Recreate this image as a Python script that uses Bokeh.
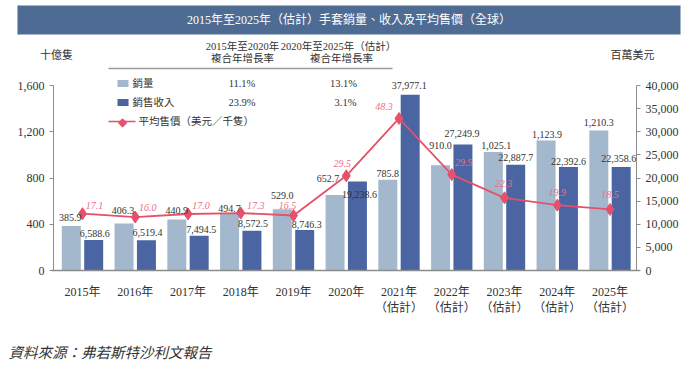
from bokeh.plotting import figure
from bokeh.models import (Range1d, LinearAxis, FixedTicker, NumeralTickFormatter, Label,
                          BoxAnnotation, ColumnDataSource)
from bokeh.transform import dodge
from bokeh.core.properties import value
from bokeh.embed import file_html
from bokeh.resources import INLINE

# ---------------- data ----------------
years = ["2015年", "2016年", "2017年", "2018年", "2019年", "2020年",
         "2021年\n（估計）", "2022年\n（估計）", "2023年\n（估計）", "2024年\n（估計）", "2025年\n（估計）"]
volume = [385.9, 406.3, 440.9, 494.7, 529.0, 652.7, 785.8, 910.0, 1025.1, 1123.9, 1210.3]        # 十億隻
revenue = [6588.6, 6519.4, 7494.5, 8572.5, 8746.3, 19238.6, 37977.1, 27249.9, 22887.7, 22392.6, 22358.6]  # 百萬美元
asp = [17.1, 16.0, 17.0, 17.3, 16.5, 29.5, 48.3, 29.9, 22.3, 19.9, 18.5]  # 美元／千隻
left_ticks = [0, 400, 800, 1200, 1600]
right_ticks = [0, 5000, 10000, 15000, 20000, 25000, 30000, 35000, 40000]
cagr_headers = [("2015年至2020年", "複合年增長率"), ("2020年至2025年（估計）", "複合年增長率")]
cagr_volume = ["11.1%", "13.1%"]
cagr_revenue = ["23.9%", "3.1%"]
series_names = ["銷量", "銷售收入", "平均售價（美元／千隻）"]
title_text = "2015年至2025年（估計）手套銷量、收入及平均售價（全球）"
left_unit = "十億隻"
right_unit = "百萬美元"
source_text = "資料來源：弗若斯特沙利文報告"

# ---------------- styling (label nudges in px) ----------------
vol_dy = [8, 13, 9, 4.5, 14, 17, 6, 20, 6.5, 6, 8.4]
vol_dx = [-1, -1, 0, 0, 0, -7, 0, 0, 3, 1, 0]
rev_dy = [7, 8, 6, 7, 6, -13, 9, 10.7, 7.4, 5.4, 8.5]
rev_dx = [1, 1, 2, 1, 2, 2, -1, -1, 0, 0, -2.5]
asp_dx = [12, 12.5, 13, 15, -6, -4, -15, 12, -1, 0, 0]
asp_dy = [8, 9.4, 8, 7.6, 10, 12, 12, 12, 14, 13, 14.7]

LIGHT = "#a3b8cd"
DARK = "#4a65a1"
PINK = "#e5506b"
PINK_TXT = "#ec6f87"
BANNER = "#4e6b93"
TXT = "#333333"
AXIS = "#8c8c8c"
FONT = "Liberation Serif, Noto Sans CJK TC"

# ---------------- geometry (pixels) ----------------
W, H = 690, 366
X0, PPU = 82.0, 52.75          # px of first category centre, px per category
BASE = 270.0                   # px of value 0
PX_PER_VOL = 185.0 / 1600.0    # px per unit of left axis
AX_L, AX_R = 53.0, 636.0       # px of the two vertical axes
REV_PER_VOL = 25.0             # 40,000 / 1,600
ASP_A, ASP_B = 40.0, 26.4      # ASP v sits at left-axis value A + B*v

def xd(px):
    return (px - X0) / PPU

def yd(py):
    return (BASE - py) / PX_PER_VOL

vol_max, rev_max = 1600, 40000

idx = list(range(len(years)))
src = ColumnDataSource(dict(
    x=idx, vol=volume, rev=revenue, asp=asp,
    vol_lbl=[f"{v:,.1f}" for v in volume],
    rev_lbl=[f"{v:,.1f}" for v in revenue],
    asp_lbl=[f"{v:.1f}" for v in asp],
    vol_dy=[-d for d in vol_dy], vol_dx=vol_dx,
    rev_dy=[-d for d in rev_dy], rev_dx=rev_dx,
    asp_dy=[-d for d in asp_dy], asp_dx=asp_dx,
))

p = figure(width=W, height=H, output_backend="svg", toolbar_location=None, title=None,
           x_range=Range1d(xd(0), xd(W)), y_range=Range1d(yd(H), yd(0)),
           min_border=0, x_axis_location=None, y_axis_location=None)
p.outline_line_color = None
p.grid.visible = False
p.background_fill_color = "white"
p.border_fill_color = "white"
p.extra_y_ranges = {
    "rev": Range1d(yd(H) * REV_PER_VOL, yd(0) * REV_PER_VOL),
    "asp": Range1d((yd(H) - ASP_A) / ASP_B, (yd(0) - ASP_A) / ASP_B),
}

# axes (fixed inside the full-canvas frame)
xaxis = LinearAxis(ticker=FixedTicker(ticks=idx), fixed_location=0,
                   bounds=(xd(AX_L - 2), xd(AX_R + 3)),
                   major_label_overrides={i: y for i, y in enumerate(years)})
xaxis.axis_line_color = AXIS
xaxis.axis_line_width = 1.6
xaxis.major_tick_line_color = None
xaxis.minor_tick_line_color = None
xaxis.major_label_standoff = 8
xaxis.major_label_text_font = FONT
xaxis.major_label_text_font_size = "12px"
xaxis.major_label_text_color = TXT
p.add_layout(xaxis, "below")

laxis = LinearAxis(ticker=FixedTicker(ticks=left_ticks), bounds=(0, vol_max),
                   fixed_location=xd(AX_L), formatter=NumeralTickFormatter(format="0,0"))
raxis = LinearAxis(y_range_name="rev", ticker=FixedTicker(ticks=right_ticks), bounds=(0, rev_max),
                   fixed_location=xd(AX_R), formatter=NumeralTickFormatter(format="0,0"))
for ax in (laxis, raxis):
    ax.axis_line_color = AXIS
    ax.major_tick_line_color = AXIS
    ax.major_tick_in = 0
    ax.major_tick_out = 4
    ax.minor_tick_line_color = None
    ax.major_label_standoff = 5
    ax.major_label_text_font = FONT
    ax.major_label_text_font_size = "12px"
    ax.major_label_text_color = TXT
p.add_layout(laxis, "left")
p.add_layout(raxis, "right")

# bars
p.vbar(x=dodge("x", -0.212), top="vol", width=0.36, source=src,
       fill_color=LIGHT, line_color=None)
p.vbar(x=dodge("x", 0.212), top="rev", width=0.36, source=src, y_range_name="rev",
       fill_color=DARK, line_color=None)

# line
p.line(x="x", y="asp", source=src, y_range_name="asp", line_color=PINK, line_width=1.8)
p.scatter(x="x", y="asp", source=src, y_range_name="asp", marker="diamond", size=12,
          fill_color=PINK, line_color=PINK)

# value labels
p.text(x=dodge("x", -0.212), y="vol", text="vol_lbl", source=src, x_offset="vol_dx", y_offset="vol_dy",
       text_align="center", text_baseline="middle", text_font=value("Liberation Serif"),
       text_font_size="10px", text_color=TXT)
p.text(x=dodge("x", 0.212), y="rev", text="rev_lbl", source=src, y_range_name="rev",
       x_offset="rev_dx", y_offset="rev_dy",
       text_align="center", text_baseline="middle", text_font=value("Liberation Serif"),
       text_font_size="10px", text_color=TXT)
p.text(x="x", y="asp", text="asp_lbl", source=src, y_range_name="asp",
       x_offset="asp_dx", y_offset="asp_dy",
       text_align="center", text_baseline="middle", text_font=value("Liberation Serif"),
       text_font_size="10px", text_font_style="italic", text_color=PINK_TXT)

# ---------------- decorations (canvas pixel units) ----------------
def box(l, r, t, b, color):
    p.add_layout(BoxAnnotation(left=l, right=r, top=t, bottom=b,
                               left_units="canvas", right_units="canvas",
                               top_units="canvas", bottom_units="canvas",
                               fill_color=color, fill_alpha=1.0, line_color=None,
                               level="overlay"))

def label(x, y, text, size="10.5px", align="center", color=TXT, style="normal", font=FONT):
    p.add_layout(Label(x=x, y=y, x_units="canvas", y_units="canvas", text=text,
                       text_font=font, text_font_size=size, text_align=align,
                       text_baseline="middle", text_color=color, text_font_style=style,
                       level="overlay"))

# title banner
box(17, 680, 5, 34, BANNER)
label(348.5, 19.5, title_text, size="12px", color="white")

# units
label(56, 54, left_unit, size="11px")
label(632, 54, right_unit, size="11px")

# CAGR table / legend
label(242, 46, cagr_headers[0][0])
label(242, 58, cagr_headers[0][1])
label(338, 46, cagr_headers[1][0])
label(341, 58, cagr_headers[1][1])
box(108, 392, 67.3, 68.8, "#9a9a9a")

box(117, 128, 79.5, 86.5, LIGHT)
label(132, 83, series_names[0], align="left")
label(241.5, 83, cagr_volume[0])
label(343, 83, cagr_volume[1])

box(117, 128, 98.5, 105.5, DARK)
label(132, 102, series_names[1], align="left")
label(241.5, 102, cagr_revenue[0])
label(345, 102, cagr_revenue[1])

box(108, 135, 120.2, 121.8, PINK)
label(122, 121, "◆", size="12px", color=PINK, font="DejaVu Sans")
label(138, 121, series_names[2], align="left")

# source note
label(8, 352, source_text, size="14.5px", align="left", style="italic")

open("out.html", "w").write(file_html(p, INLINE))
